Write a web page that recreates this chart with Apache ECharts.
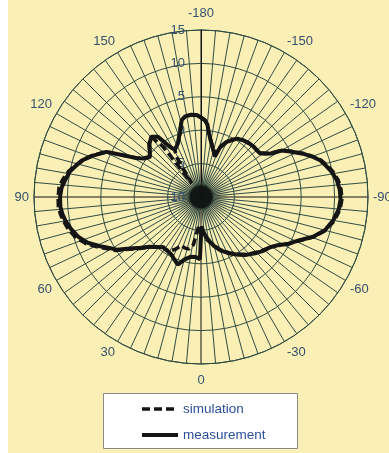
<!DOCTYPE html>
<html>
<head>
<meta charset="utf-8">
<script src="https://cdn.jsdelivr.net/npm/echarts@6/dist/echarts.min.js"></script>
<style>
  html, body { margin: 0; padding: 0; background: #ffffff; }
  #chart { width: 389px; height: 453px; }
</style>
</head>
<body>
<div id="chart"></div>
<script>
// Radiation pattern, dB versus angle (degrees, 0 at the bottom, growing clockwise)
const radialTicks = [-10, -5, 0, 5, 10, 15];
const angleTicks = [-180, -150, -120, -90, -60, -30, 0, 30, 60, 90, 120, 150];

const measAngles = [-180, -177, -175, -173, -170, -166, -163, -161, -159, -155, -151, -148, -143, -138, -134, -130,
  -126.5, -124, -122, -120, -117, -113, -110, -107, -104, -101, -97, -93, -89, -85, -80, -75, -70.5, -66, -62, -58,
  -54, -49, -44, -38, -33, -27, -20, -15, -11, -7, -3, -1, 1, 5, 10, 15, 19, 23, 27, 32, 37, 41, 46, 50, 54, 58, 61,
  64, 68, 72, 76, 80, 83, 86, 90, 94, 97, 101, 104, 107.5, 111, 115.5, 118, 121, 124, 128, 132, 136, 140.5, 144.5,
  146, 148, 151, 154, 157, 160, 162, 164, 166, 169, 173, 177, 180];
const measValues = [1.9, 1.5, 0.9, -0.3, -1.5, -2.6, -3.2, -3.6, -2.0, -0.9, -0.2, 0.3, 0.6, 0.8, 0.9, 0.9,
  1.0, 1.6, 2.3, 3.9, 5.0, 6.6, 7.7, 8.7, 9.3, 9.9, 10.5, 10.8, 10.9, 10.7, 10.1, 9.2, 7.8, 6.0, 4.9, 3.6,
  2.8, 2.3, 1.7, 1.0, 0.3, -0.5, -1.5, -2.4, -3.2, -4.0, -5.0, -5.6, -0.7, -1.0, -0.9, -0.3, 0.7, 0.2, -0.3, -0.5, -0.6, -0.1, 0.7, 1.8, 3.1, 4.9, 5.7,
  6.8, 8.3, 9.3, 10.0, 10.6, 10.9, 11.1, 11.1, 10.9, 10.5, 10.0, 9.3, 8.5, 7.3, 5.7, 3.4, 1.3, 0.3, -0.3, 0.3, 1.1, 1.7, 1.1,
  0.0, -1.1, -1.9, -1.6, -1.2, -0.4, 0.1, 1.0, 1.9, 2.3, 2.4, 2.3, 1.9];

const simAngles = [-180, -177, -175, -173, -170, -166, -163, -161, -159, -155, -151, -148, -143, -138, -134, -130,
  -126.5, -124, -122, -120, -117, -113, -110, -107, -104, -101, -97, -93, -89, -85, -80, -75, -70.5, -66, -62, -58,
  -54, -49, -44, -38, -33, -27, -20, -15, -10, -5, 0, 4, 6, 9, 13, 18, 22, 26, 30, 34, 37, 41, 46, 50, 54, 58, 61,
  64, 68, 72, 76, 80, 83, 86, 90, 94, 97, 101, 104, 107.5, 111, 115.5, 118, 121, 124, 128, 132, 136, 140.5, 143,
  146, 148.5, 151, 154, 157, 160, 162, 164, 166, 169, 173, 177, 180];
const simValues = [1.9, 1.5, 0.9, -0.3, -1.5, -2.6, -3.2, -3.4, -2.0, -0.9, -0.2, 0.3, 0.6, 0.8, 0.9, 0.9,
  1.1, 1.7, 2.4, 3.9, 5.1, 6.7, 7.8, 8.8, 9.5, 10.1, 10.7, 11.0, 11.1, 10.9, 10.3, 9.3, 7.9, 6.1, 4.9, 3.6,
  2.8, 2.2, 1.6, 0.9, 0.2, -0.6, -1.6, -2.5, -3.3, -3.9, -4.3, -5.6, -5.0, -2.8, -2.0, -2.0, -2.2, -1.3, -0.7, -0.5, -0.6, -0.1, 0.8, 2.0, 3.3, 5.1, 6.0,
  7.1, 8.6, 9.7, 10.4, 10.9, 11.2, 11.4, 11.4, 11.3, 10.9, 10.2, 9.4, 8.6, 7.4, 5.7, 3.4, 1.4, 0.4, -0.2, 0.4, 1.2, 1.5, -0.5,
  -7.5, -3.0, -1.9, -1.6, -1.2, -0.4, 0.1, 1.0, 1.9, 2.3, 2.4, 2.3, 1.9];

const seriesNames = ['simulation', 'measurement'];

const polarCenter = [201, 197];
const polarRadius = 167;
const gridColor = '#2f4c43';
const labelColor = '#33506e';
const fontFamily = '"Liberation Sans", Arial, sans-serif';

// spokes every 5 degrees; the ones on -180, -90, 0 and 90 are drawn in black
const spokeColors = [];
for (let i = 0; i < 18; i++) spokeColors.push(i === 0 ? '#111111' : gridColor);

const toPolar = (angles, values) => angles.map((a, i) => [values[i], a]);

const chart = echarts.init(document.getElementById('chart'), null, { renderer: 'canvas' });

chart.setOption({
  backgroundColor: '#faf0b5',
  animation: false,
  graphic: [
    { type: 'rect', z: 0, shape: { x: 0, y: 0, width: 8, height: 453 }, style: { fill: '#ffffff' } },
    // dark hub where the spokes converge
    { type: 'circle', z: 2, silent: true,
      shape: { cx: polarCenter[0], cy: polarCenter[1], r: 30 },
      style: { fill: new echarts.graphic.RadialGradient(0.5, 0.5, 0.5, [
        { offset: 0, color: 'rgba(15,20,18,1)' },
        { offset: 0.36, color: 'rgba(15,20,18,0.95)' },
        { offset: 0.45, color: 'rgba(30,45,40,0.3)' },
        { offset: 1, color: 'rgba(30,45,40,0)' }
      ]) } },
    { type: 'rect', z: 1, shape: { x: 103.5, y: 393.5, width: 194, height: 55 },
      style: { fill: '#ffffff', stroke: '#8a8a8a', lineWidth: 1 } }
  ],
  polar: { center: polarCenter, radius: polarRadius },
  angleAxis: {
    type: 'value',
    min: -180,
    max: 180,
    interval: 5,
    startAngle: 90,
    clockwise: true,
    axisLine: { show: true, lineStyle: { color: gridColor, width: 1 } },
    axisTick: { show: false },
    splitLine: { show: true, lineStyle: { color: spokeColors, width: 1 } },
    axisLabel: {
      margin: 5,
      color: labelColor,
      fontSize: 13,
      fontFamily: fontFamily,
      formatter: function (v) {
        if (angleTicks.indexOf(v) < 0) return '';
        if (v === -180) return '{top|-180}';
        if (v === 0) return '{bot|0}';
        return String(v);
      },
      rich: {
        top: { padding: [0, 0, 5, 0], color: labelColor, fontSize: 13, fontFamily: fontFamily },
        bot: { padding: [5, 0, 0, 0], color: labelColor, fontSize: 13, fontFamily: fontFamily }
      }
    }
  },
  radiusAxis: {
    type: 'value',
    z: 3,
    min: radialTicks[0],
    max: radialTicks[radialTicks.length - 1],
    interval: 5,
    axisLine: { show: true, lineStyle: { color: '#111111', width: 1 } },
    axisTick: { show: false },
    splitLine: { show: true, lineStyle: { color: gridColor, width: 1 } },
    axisLabel: { margin: 16, color: labelColor, fontSize: 13, fontFamily: fontFamily }
  },
  legend: {
    data: [
      { name: seriesNames[0], lineStyle: { width: 3.5, type: [8, 4], color: '#151515' } },
      { name: seriesNames[1], lineStyle: { width: 4, color: '#151515' } }
    ],
    orient: 'vertical',
    left: 135,
    top: 397,
    itemWidth: 36,
    itemHeight: 14,
    itemGap: 12,
    itemStyle: { color: 'rgba(0,0,0,0)', borderWidth: 0, opacity: 0 },
    textStyle: { color: '#2a4f9a', fontSize: 13.5, fontFamily: fontFamily }
  },
  series: [
    {
      name: seriesNames[0],
      type: 'line',
      coordinateSystem: 'polar',
      symbol: 'none',
      smooth: false,
      z: 3,
      lineStyle: { color: '#151515', width: 3.5, type: [8, 4] },
      itemStyle: { color: '#151515' },
      data: toPolar(simAngles, simValues)
    },
    {
      name: seriesNames[1],
      type: 'line',
      coordinateSystem: 'polar',
      symbol: 'none',
      smooth: false,
      z: 4,
      lineStyle: { color: '#151515', width: 4 },
      itemStyle: { color: '#151515' },
      data: toPolar(measAngles, measValues)
    }
  ]
});
</script>
</body>
</html>
